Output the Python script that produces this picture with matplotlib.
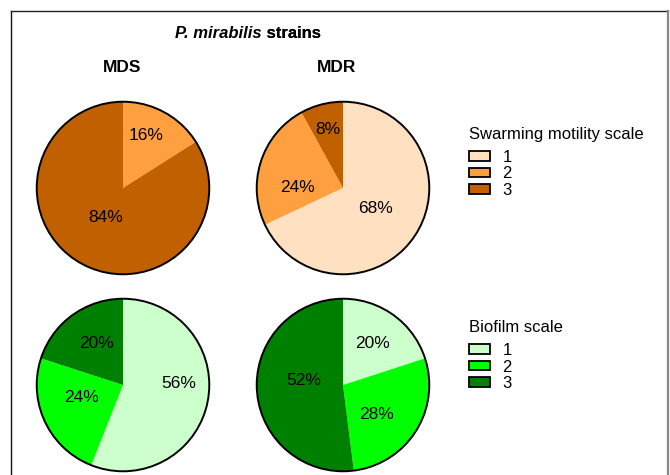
import matplotlib
matplotlib.use("Agg")
import matplotlib.pyplot as plt
from matplotlib.patches import Circle, Patch
import numpy as np

plt.rcParams['font.family'] = ['Liberation Sans', 'DejaVu Sans']

# ---- data ----
strains = ["MDS", "MDR"]
scale_levels = ["1", "2", "3"]
swarming_mds = [0, 16, 84]
swarming_mdr = [68, 24, 8]
biofilm_mds = [56, 24, 20]
biofilm_mdr = [20, 28, 52]

swarm_colors = ["#FFE0C0", "#FFA040", "#C06000"]
bio_colors = ["#CCFFCC", "#00FF00", "#008000"]

W, H = 670, 475
fig = plt.figure(figsize=(W / 100, H / 100), dpi=100)

def fx(px):
    return px / W

def fy(py):
    return 1 - py / H

# border
fig.add_artist(plt.Line2D([fx(11), fx(11)], [fy(11), fy(480)], color="#111111", lw=1.0))
fig.add_artist(plt.Line2D([fx(11), fx(668)], [fy(11), fy(11)], color="#222222", lw=1.0))
fig.add_artist(plt.Line2D([fx(668), fx(668)], [fy(11), fy(480)], color="#888888", lw=1.6))

R = 88

def draw_pie(cx, cy, values, colors, label_r, label_dang):
    ax = fig.add_axes([fx(cx - R), fy(cy + R), 2 * R / W, 2 * R / H])
    wedges, _ = ax.pie(values, colors=colors, startangle=90, counterclock=False,
                       radius=1, wedgeprops=dict(linewidth=0))
    for w, v, r, da in zip(wedges, values, label_r, label_dang):
        if v <= 0:
            continue
        ang = np.deg2rad((w.theta1 + w.theta2) / 2 + da)
        ax.text(r * np.cos(ang), r * np.sin(ang), f"{v}%", ha="center", va="center",
                fontsize=12.5, color="black")
    ax.add_patch(Circle((0, 0), 1, fill=False, edgecolor="black", lw=1.4))
    ax.set_xlim(-1.02, 1.02)
    ax.set_ylim(-1.02, 1.02)
    ax.axis("off")
    return ax

draw_pie(123, 188, swarming_mds, swarm_colors, [0.6, 0.67, 0.4], [0, 5, -2])
draw_pie(343, 188, swarming_mdr, swarm_colors, [0.44, 0.53, 0.7], [0, 18, 0])
draw_pie(123, 385, biofilm_mds, bio_colors, [0.65, 0.5, 0.57], [12, -8, -4])
draw_pie(343, 385, biofilm_mdr, bio_colors, [0.59, 0.52, 0.46], [0, -9, -10])

# titles
t1 = fig.text(fx(175), fy(33), "P. mirabilis", fontsize=12, fontweight="bold",
              fontstyle="italic", ha="left", va="center")
ann = plt.annotate(" strains", xy=(1, 0.5), xycoords=t1, ha="left", va="center",
                   fontsize=12, fontweight="bold")
fig.add_artist(ann)
fig.text(fx(122), fy(67), strains[0], fontsize=12.5, fontweight="bold", ha="center", va="center")
fig.text(fx(337), fy(67), strains[1], fontsize=12.5, fontweight="bold", ha="center", va="center")

# legends
def make_legend(colors, title, title_py, top_py):
    fig.text(fx(469), fy(title_py), title, fontsize=12, ha="left", va="center")
    handles = [Patch(facecolor=c, edgecolor="black", lw=1.3) for c in colors]
    leg = fig.legend(handles, scale_levels, loc="upper left",
                     bbox_to_anchor=(fx(469), fy(top_py)), frameon=False,
                     fontsize=12, handlelength=1.25, handleheight=0.5,
                     handletextpad=0.75, labelspacing=0.09, borderaxespad=0, borderpad=0)
    return leg

make_legend(swarm_colors, "Swarming motility scale", 134, 150)
make_legend(bio_colors, "Biofilm scale", 327, 343)

fig.savefig("out.png", dpi=100)
